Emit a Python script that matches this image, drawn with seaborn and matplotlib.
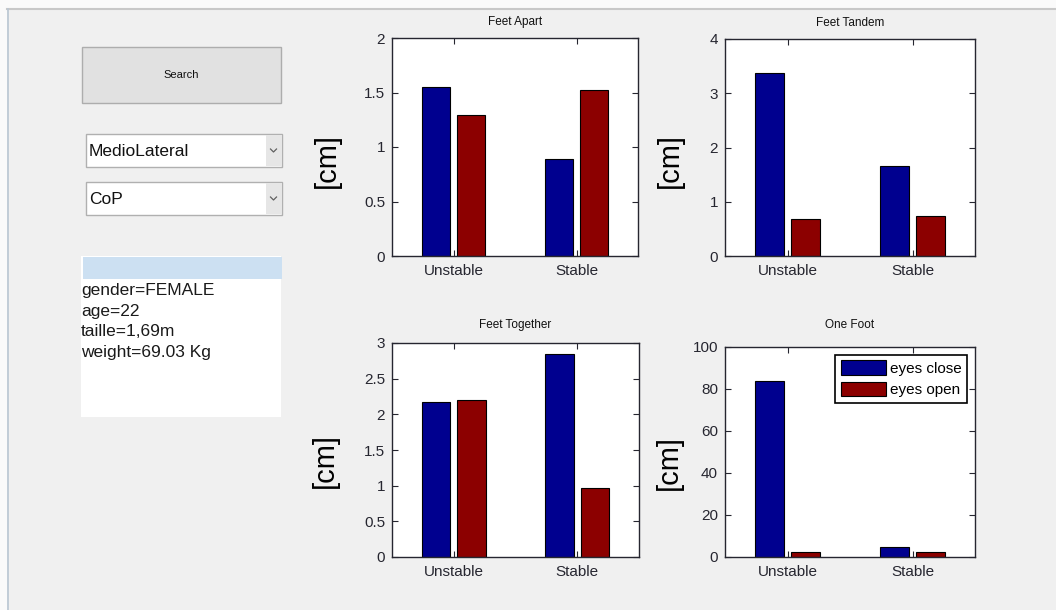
import matplotlib
matplotlib.use("Agg")
import matplotlib.pyplot as plt
from matplotlib import font_manager
from matplotlib.patches import Rectangle
import seaborn as sns
import pandas as pd

# data
surfaces = ["Unstable", "Stable"]
eyes = ["eyes close", "eyes open"]
panels = ["Feet Apart", "Feet Tandem", "Feet Together", "One Foot"]
feet_apart = [[1.55, 0.89], [1.29, 1.52]]        # [eyes close], [eyes open]
feet_tandem = [[3.37, 1.65], [0.69, 0.73]]
feet_together = [[2.17, 2.84], [2.20, 0.97]]
one_foot = [[84.0, 5.0], [2.6, 2.6]]
y_max = [2, 4, 3, 100]
y_step = [0.5, 1, 0.5, 20]
info_lines = ["gender=FEMALE", "age=22", "taille=1,69m", "weight=69.03 Kg"]
menu_items = ["MedioLateral", "CoP"]

W, H = 1056, 610
names = {f.name for f in font_manager.fontManager.ttflist}
narrow = "Liberation Sans Narrow" if "Liberation Sans Narrow" in names else "Liberation Sans"
tick_size = 12.5 if narrow == "Liberation Sans Narrow" else 11
plt.rcParams["font.family"] = ["Liberation Sans", "DejaVu Sans"]

fig = plt.figure(figsize=(W / 100, H / 100), dpi=100, facecolor="#f0f0f0")

# gui background drawn in pixel coordinates
bg = fig.add_axes([0, 0, 1, 1], zorder=-1)
bg.set_xlim(0, W)
bg.set_ylim(H, 0)
bg.axis("off")
bg.add_patch(Rectangle((0, 0), W, 8, color="#fafafa", lw=0))
bg.add_patch(Rectangle((0, 0), 7, H, color="#fafafa", lw=0))
bg.plot([7, W], [9, 9], color="#c8c8c8", lw=1.5)
bg.plot([7.5, 7.5], [9, H], color="#b9c6d3", lw=1.2)

# search button
bg.add_patch(Rectangle((82, 47), 199, 56, facecolor="#e1e1e1", edgecolor="#adadad", lw=1))
bg.text(181, 75, "Search", ha="center", va="center", fontsize=8, color="#111111")

# popup menus
for top, item in zip([134, 182], menu_items):
    bg.add_patch(Rectangle((86, top), 196, 33, facecolor="white", edgecolor="#b0b0b0", lw=1))
    bg.add_patch(Rectangle((266, top + 1), 15.5, 31, facecolor="#e6e6e6", lw=0))
    cy = top + 16.5
    bg.plot([270.5, 273.5, 276.5], [cy - 1.5, cy + 1.5, cy - 1.5], color="#606060", lw=0.9)
    bg.text(89, cy + 1.5, item, ha="left", va="center", fontsize=12.5, color="#111111")

# listbox with subject info
bg.add_patch(Rectangle((81, 256), 200, 161, facecolor="white", lw=0))
bg.add_patch(Rectangle((83, 257), 199, 22, facecolor="#cce0f2", lw=0))
for i, line in enumerate(info_lines):
    bg.text(81, 291 + i * 20.5, line, ha="left", va="center", fontsize=12.5, color="#1a1a1a")

# chart panels
rects = {
    "Feet Apart": [392, 38, 246, 218],
    "Feet Tandem": [725, 39, 250, 217],
    "Feet Together": [392, 343, 247, 214],
    "One Foot": [725, 347, 250, 210],
}
title_pad = {"Feet Apart": 9, "Feet Tandem": 9, "Feet Together": 11, "One Foot": 14}
label_xy = {
    "Feet Apart": (-0.264, 0.436),
    "Feet Tandem": (-0.22, 0.438),
    "Feet Together": (-0.27, 0.449),
    "One Foot": (-0.225, 0.449),
}
values = [feet_apart, feet_tandem, feet_together, one_foot]
colors = ["#00008f", "#8c0000"]
ink = "#262630"

for name, vals, top, step in zip(panels, values, y_max, y_step):
    x0, y0, w, h = rects[name]
    ax = fig.add_axes([x0 / W, 1 - (y0 + h) / H, w / W, h / H])
    df = pd.DataFrame({
        "surface": surfaces * 2,
        "eyes": [eyes[0]] * 2 + [eyes[1]] * 2,
        "value": vals[0] + vals[1],
    })
    sns.barplot(data=df, x="surface", y="value", hue="eyes", palette=colors,
                width=0.576, gap=0.2, edgecolor="black", linewidth=0.8,
                saturation=1, ax=ax, legend=(name == "One Foot"))
    ax.set_facecolor("white")
    ax.set_xlim(-0.5, 1.5)
    ax.set_ylim(0, top)
    ticks = [step * k for k in range(int(round(top / step)) + 1)]
    ax.set_yticks(ticks)
    ax.set_yticklabels([f"{t:g}" for t in ticks])
    ax.set_xlabel("")
    ax.set_ylabel("[cm]", fontsize=21, va="center", color="black")
    ax.yaxis.set_label_coords(*label_xy[name])
    ax.set_title(name, fontsize=8.5, pad=title_pad[name], color="#111111")
    ax.tick_params(direction="in", length=4, width=0.8, top=True, right=True,
                   colors=ink, labelsize=tick_size)
    for lab in ax.get_xticklabels() + ax.get_yticklabels():
        lab.set_fontfamily([narrow, "DejaVu Sans"])
    ax.tick_params(axis="x", pad=6)
    ax.tick_params(axis="y", pad=5)
    for sp in ax.spines.values():
        sp.set_color(ink)
        sp.set_linewidth(1)
    if name == "One Foot":
        handles, labels = ax.get_legend_handles_labels()
        for hd in handles:
            hd.set_edgecolor("black")
        ax.legend(handles, labels, loc="upper right", fancybox=False, frameon=True,
                  edgecolor="black", framealpha=1, borderaxespad=0.5,
                  handlelength=3.0, handleheight=1.1, handletextpad=0.25,
                  labelspacing=0.4, borderpad=0.35,
                  prop={"family": [narrow, "DejaVu Sans"], "size": tick_size})
        ax.get_legend().get_frame().set_linewidth(1.2)

fig.savefig("out.png", dpi=100, facecolor=fig.get_facecolor())
